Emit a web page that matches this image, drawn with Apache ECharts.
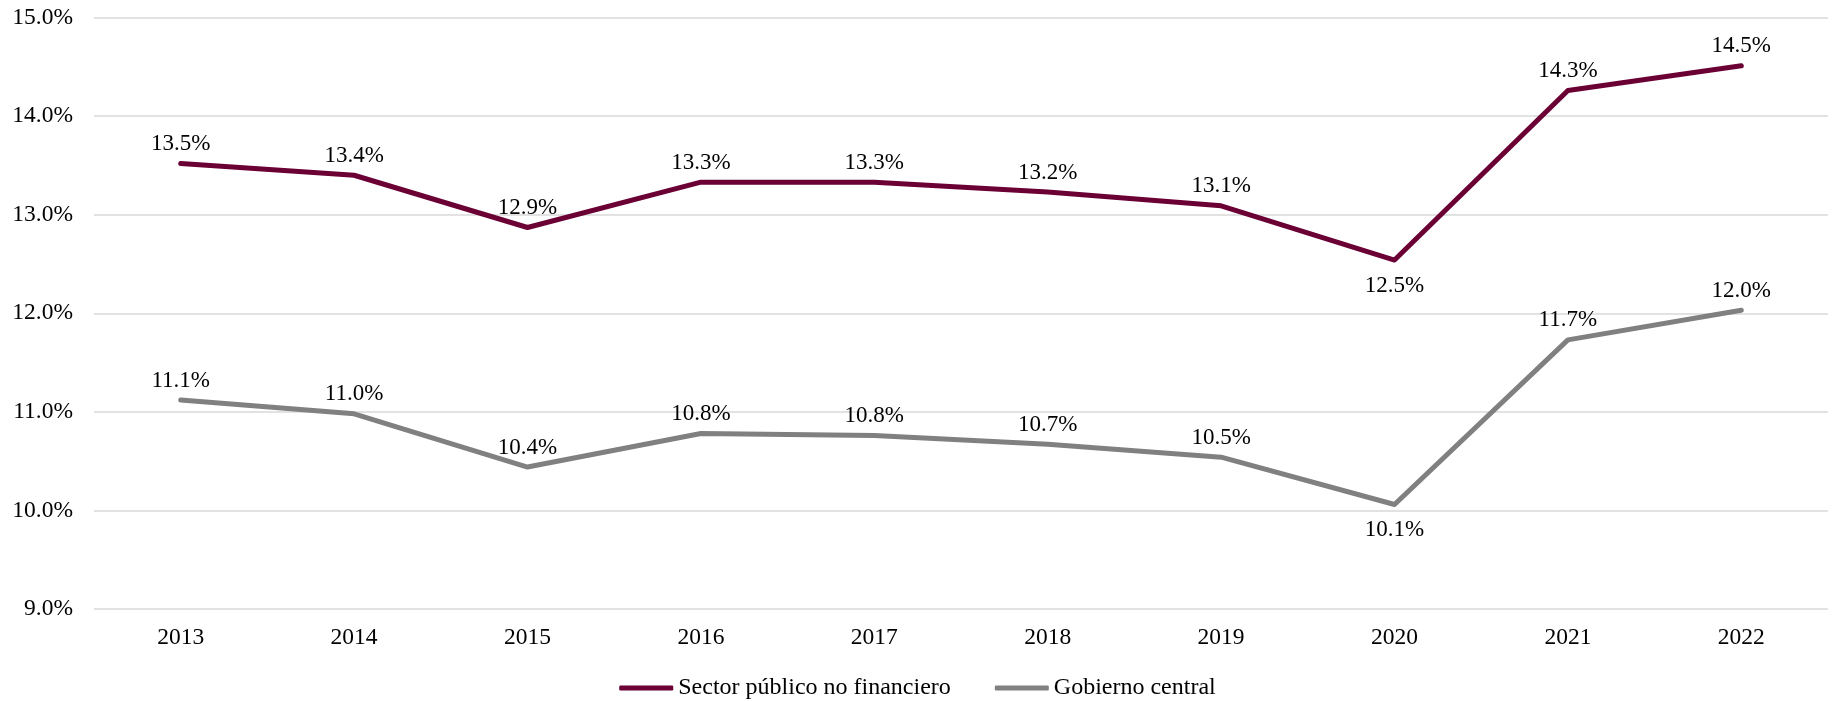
<!DOCTYPE html>
<html>
<head>
<meta charset="utf-8">
<script src="https://cdn.jsdelivr.net/npm/echarts@6/dist/echarts.min.js"></script>
<style>
html,body{margin:0;padding:0;background:#fff;}
#chart{width:1835px;height:701px;}
</style>
</head>
<body>
<div id="chart"></div>
<script>
const years = ['2013','2014','2015','2016','2017','2018','2019','2020','2021','2022'];
const sectorPublico = [13.52, 13.40, 12.87, 13.33, 13.33, 13.23, 13.09, 12.54, 14.26, 14.51];
const gobiernoCentral = [11.12, 10.98, 10.44, 10.78, 10.76, 10.67, 10.54, 10.06, 11.73, 12.03];
const seriesNames = ['Sector público no financiero', 'Gobierno central'];
const yTicks = { min: 9, max: 15, interval: 1 };

const FONT = '"Liberation Serif", "Times New Roman", serif';

function buildData(values) {
  const minV = Math.min(...values);
  return values.map(v => v === minV
    ? { value: v, label: { position: 'bottom', distance: 13 } }
    : { value: v });
}

function makeSeries(name, values, color) {
  return {
    name: name,
    type: 'line',
    data: buildData(values),
    showSymbol: true,
    symbol: 'circle',
    symbolSize: 2,
    lineStyle: { color: color, width: 5, cap: 'round', join: 'round' },
    itemStyle: { color: color },
    label: {
      show: true, position: 'top', distance: 7,
      fontFamily: FONT, fontSize: 23, color: '#000',
      formatter: p => p.value.toFixed(1) + '%'
    }
  };
}

const chart = echarts.init(document.getElementById('chart'));
chart.setOption({
  animation: false,
  grid: { left: 94, right: 7, top: 17.5, bottom: 92 },
  legend: {
    bottom: 1,
    padding: [0, 5],
    left: 'center',
    itemWidth: 54,
    itemHeight: 5,
    itemGap: 44,
    icon: 'roundRect',
    textStyle: { fontFamily: FONT, fontSize: 24, color: '#000' },
    data: seriesNames
  },
  xAxis: {
    type: 'category',
    data: years,
    boundaryGap: true,
    axisLine: { show: false },
    axisTick: { show: false },
    axisLabel: { fontFamily: FONT, fontSize: 23.5, color: '#000', margin: 17 }
  },
  yAxis: {
    type: 'value',
    min: yTicks.min,
    max: yTicks.max,
    interval: yTicks.interval,
    axisLine: { show: false },
    axisTick: { show: false },
    splitLine: { lineStyle: { color: '#d9d9d9', width: 1.5 } },
    axisLabel: {
      fontFamily: FONT, fontSize: 23.5, color: '#000', margin: 21,
      formatter: v => v.toFixed(1) + '%'
    }
  },
  series: [
    makeSeries(seriesNames[0], sectorPublico, '#6b0035'),
    makeSeries(seriesNames[1], gobiernoCentral, '#808080')
  ]
});
</script>
</body>
</html>
